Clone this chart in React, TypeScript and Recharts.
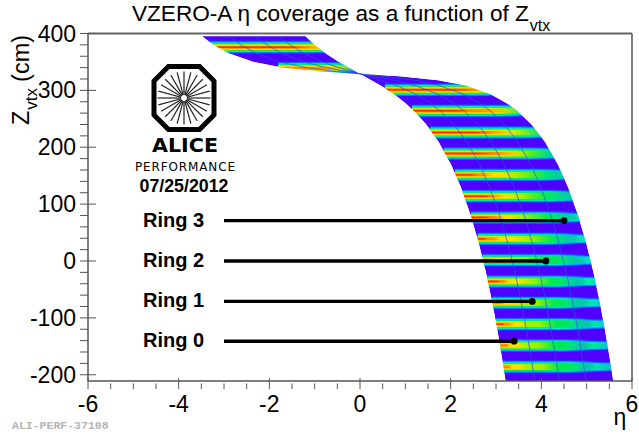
import { Area, ComposedChart, Line, ReferenceArea, ReferenceLine, XAxis, YAxis } from "recharts";

// band outline and ring boundaries, eta read at each z row
const zRows = [395, 380, 365, 350, 340, 333, 329, 325, 318, 308, 293, 278, 263, 240, 210, 170, 130, 80, 30, -20, -70, -120, -170, -211];
const etaLow = [-3.484, -3.228, -2.881, -2.348, -1.725, -0.872, 0, 0.092, 0.249, 0.465, 0.753, 0.997, 1.202, 1.462, 1.729, 2.005, 2.223, 2.443, 2.624, 2.777, 2.909, 3.028, 3.131, 3.211];
const etaHigh = [-1.202, -0.997, -0.753, -0.465, -0.249, -0.092, 0, 0.872, 1.725, 2.348, 2.881, 3.228, 3.484, 3.784, 4.074, 4.363, 4.588, 4.812, 4.995, 5.149, 5.283, 5.401, 5.507, 5.586];
const edgeA = [-1.781, -1.541, -1.234, -0.822, -0.463, -0.174, 0, 0.174, 0.463, 0.822, 1.234, 1.541, 1.781, 2.067, 2.35, 2.636, 2.859, 3.081, 3.264, 3.418, 3.552, 3.669, 3.775, 3.854];
const edgeB = [-2.305, -2.054, -1.721, -1.238, -0.754, -0.296, 0, 0.296, 0.754, 1.238, 1.721, 2.054, 2.305, 2.6, 2.888, 3.176, 3.4, 3.624, 3.806, 3.961, 4.094, 4.212, 4.318, 4.397];
const edgeC = [-2.887, -2.631, -2.288, -1.768, -1.189, -0.518, 0, 0.518, 1.189, 1.768, 2.288, 2.631, 2.887, 3.184, 3.474, 3.764, 3.988, 4.212, 4.394, 4.55, 4.683, 4.801, 4.907, 4.986];

// z bins and how far along eta each heat level reaches in that bin
const stripeZ = [376, 339, 301, 264, 226, 189, 151.5, 114, 76.5, 39, 1.5, -36, -73.5, -111, -148.5, -186];
const stripeFrom = [-3.4, -1.8, 0.55, 1.15, 1.55, 1.85, 2.1, 2.25, 2.45, 2.6, 2.7, 2.8, 2.9, 3.0, 3.1, 3.15];
const reachFull = [0, 0, 4.2, 4.5, 5, 5.2, 5.3, 5.5, 5.6, 5.8, 5.9, 6, 6, 6, 6, 6];
const reachCyan = [0, 0, 4, 4, 4.5, 4.7, 4.8, 5, 5.1, 5.2, 5.3, 5.4, 5.5, 5.6, 5.6, 5.7];
const reachGreen = [0, -0.1, 3.6, 3.9, 4.4, 4.6, 4.7, 4.9, 4.8, 4.85, 5.0, 5.0, 5.05, 5.15, 5.1, 5.2];
const reachLime = [0, -0.1, 3.4, 3.8, 4.1, 4.15, 4.1, 4.15, 4.15, 4.25, 4.05, 4.25, 4.3, 4.35, 4.3, 4.4];
const reachYellow = [-0.2, -0.2, 3.2, 3.5, 3.8, 3.75, 3.5, 3.6, 3.6, 3.7, 3.45, 3.8, 3.6, 3.7, 3.65, 3.7];
const reachOrange = [-0.7, -0.4, 3.0, 3.3, 3.35, 3.5, 2.95, 3.2, 3.2, 3.1, 3.0, 3.3, 3.2, 3.4, 3.3, 3.35];
const reachRed = [-0.9, -1.8, 2.7, 2.5, 2.9, 2.95, 2.6, 2.95, 2.9, 2.8, 2.85, 3.1, 2.9, 3.2, 3.1, 3.15];

// drawn in this order: thin cool cores show at the right, wide levels cover them at the left
const heatLevels = [
  { id: "blueCore", color: "#1a3cff", half: 9, reach: reachFull },
  { id: "azureCore", color: "#0090ff", half: 7.5, reach: reachFull },
  { id: "cyanCore", color: "#00e8e0", half: 6, reach: reachFull },
  { id: "greenCore", color: "#00e850", half: 3.5, reach: reachCyan },
  { id: "blueWide", color: "#1a3cff", half: 11.5, reach: reachGreen },
  { id: "azureWide", color: "#0090ff", half: 10, reach: reachGreen },
  { id: "cyanWide", color: "#00e8e0", half: 8.5, reach: reachGreen },
  { id: "greenWide", color: "#00e850", half: 7, reach: reachGreen },
  { id: "lime", color: "#a0f000", half: 5.5, reach: reachLime },
  { id: "yellow", color: "#ffe000", half: 4, reach: reachYellow },
  { id: "orange", color: "#ff8c00", half: 2.6, reach: reachOrange },
  { id: "red", color: "#ff2a00", half: 1.3, reach: reachRed },
];

const xTicks = [-6, -5.5, -5, -4.5, -4, -3.5, -3, -2.5, -2, -1.5, -1, -0.5, 0, 0.5, 1, 1.5, 2, 2.5, 3, 3.5, 4, 4.5, 5, 5.5, 6];
const yTicks = [400, 380, 360, 340, 320, 300, 280, 260, 240, 220, 200, 180, 160, 140, 120, 100, 80, 60, 40, 20, 0, -20, -40, -60, -80, -100, -120, -140, -160, -180, -200];

const rings = [
  { name: "Ring 3", z: 71, end: 4.5 },
  { name: "Ring 2", z: 0, end: 4.1 },
  { name: "Ring 1", z: -71, end: 3.8 },
  { name: "Ring 0", z: -141, end: 3.4 },
];
const ringStart = -3;

const spokes = [0, 15, 30, 45, 60, 75, 90, 105, 120, 135, 150, 165, 180, 195, 210, 225, 240, 255, 270, 285, 300, 315, 330, 345];

const rows = zRows.map((z, i) => ({
  z,
  band: [etaLow[i], etaHigh[i]],
  maskLeft: [-6, etaLow[i]],
  maskRight: [etaHigh[i], 6],
  edgeA: edgeA[i],
  edgeB: edgeB[i],
  edgeC: edgeC[i],
}));

const FONT = "'Liberation Sans', Arial, sans-serif";
const AXIS = "#555";

function XTick({ x, y, payload }: any) {
  const major = Number.isInteger(payload.value / 2);
  return (
    <g>
      <line x1={x} x2={x} y1={y} y2={y - (major ? 11 : 5.5)} stroke={AXIS} strokeWidth={1} />
      {major && (
        <text x={x} y={y + 23} textAnchor="middle" fontFamily={FONT} fontSize={23} fill="#000">
          {payload.value}
        </text>
      )}
    </g>
  );
}

function YTick({ x, y, payload }: any) {
  const major = payload.value % 100 === 0;
  return (
    <g>
      <line x1={x} x2={x + (major ? 16 : 8)} y1={y} y2={y} stroke={AXIS} strokeWidth={1} />
      {major && (
        <text x={x - 4} y={y + 8} textAnchor="end" fontFamily={FONT} fontSize={23} fill="#000">
          {payload.value}
        </text>
      )}
    </g>
  );
}

function AliceLogo() {
  return (
    <g>
      <polygon
        points="168.5,66.5 199.5,66.5 214,81 214,115 199.5,129.5 168.5,129.5 154,115 154,81"
        fill="#fff"
        stroke="#000"
        strokeWidth={5}
      />
      {spokes.map((a) => (
        <line
          key={a}
          x1={184 + 3 * Math.cos((a * Math.PI) / 180)}
          y1={98 + 3 * Math.sin((a * Math.PI) / 180)}
          x2={184 + 26.5 * Math.cos((a * Math.PI) / 180)}
          y2={98 + 26.5 * Math.sin((a * Math.PI) / 180)}
          stroke="#222"
          strokeWidth={1.2}
        />
      ))}
      <text x={185} y={152} textAnchor="middle" fontFamily="'DejaVu Sans'" fontWeight="bold" fontSize={20} textLength={66} lengthAdjust="spacingAndGlyphs">ALICE</text>
      <text x={185} y={171} textAnchor="middle" fontFamily="'DejaVu Sans'" fontSize={12} textLength={100} lengthAdjust="spacing">PERFORMANCE</text>
      <text x={184} y={192} textAnchor="middle" fontFamily={FONT} fontWeight="bold" fontSize={17.8}>07/25/2012</text>
    </g>
  );
}

export default function App() {
  return (
    <div style={{ position: "absolute", left: 0, top: 0, width: 639, height: 434, background: "#fff" }}>
      <ComposedChart
        width={639}
        height={434}
        data={rows}
        layout="vertical"
        margin={{ top: 33.5, right: 7, bottom: 0, left: 0 }}
      >
        <defs>
          {heatLevels.map((l) => (
            <linearGradient key={l.id} id={`fade-${l.id}`} x1="0" x2="1" y1="0" y2="0">
              <stop offset="70%" stopColor={l.color} stopOpacity={1} />
              <stop offset="100%" stopColor={l.color} stopOpacity={0} />
            </linearGradient>
          ))}
        </defs>
        <XAxis
          type="number"
          domain={[-6, 6]}
          ticks={xTicks}
          interval={0}
          height={53}
          tick={<XTick />}
          tickLine={false}
          axisLine={{ stroke: AXIS, strokeWidth: 1.5 }}
          allowDataOverflow
        />
        <YAxis
          type="number"
          dataKey="z"
          domain={[-211, 400]}
          reversed
          ticks={yTicks}
          interval={0}
          width={88}
          tick={<YTick />}
          tickLine={false}
          axisLine={{ stroke: AXIS, strokeWidth: 1.5 }}
          allowDataOverflow
        />
        <ReferenceLine y={400} stroke="#666" strokeWidth={2} />
        <ReferenceLine x={6} stroke="#555" strokeWidth={1.5} />
        <Area dataKey="band" type="linear" stroke="none" fill="#5000ff" fillOpacity={1} isAnimationActive={false} dot={false} activeDot={false} />
        {stripeZ.flatMap((z, i) =>
          heatLevels.map((l) => (
            <ReferenceArea
              key={`${z}-${l.id}`}
              x1={stripeFrom[i]}
              x2={Math.max(l.reach[i], stripeFrom[i])}
              y1={z - l.half}
              y2={z + l.half}
              fill={`url(#fade-${l.id})`}
              fillOpacity={1}
              stroke="none"
              ifOverflow="visible"
            />
          ))
        )}
        <Area dataKey="maskLeft" type="linear" stroke="none" fill="#fff" fillOpacity={1} isAnimationActive={false} dot={false} activeDot={false} />
        <Area dataKey="maskRight" type="linear" stroke="none" fill="#fff" fillOpacity={1} isAnimationActive={false} dot={false} activeDot={false} />
        <Line dataKey="edgeA" type="linear" stroke="#2a50e8" strokeWidth={1} strokeOpacity={0.7} dot={false} activeDot={false} isAnimationActive={false} />
        <Line dataKey="edgeB" type="linear" stroke="#2a50e8" strokeWidth={1} strokeOpacity={0.7} dot={false} activeDot={false} isAnimationActive={false} />
        <Line dataKey="edgeC" type="linear" stroke="#2a50e8" strokeWidth={1} strokeOpacity={0.7} dot={false} activeDot={false} isAnimationActive={false} />
        {rings.map((r) => (
          <Line
            key={r.name}
            data={[
              { z: r.z, eta: ringStart },
              { z: r.z, eta: r.end },
            ]}
            dataKey="eta"
            type="linear"
            stroke="#000"
            strokeWidth={3.4}
            dot={(p: any) =>
              p.index === 1 ? <circle key={p.index} cx={p.cx} cy={p.cy} r={3.4} fill="#000" /> : <g key={p.index} />
            }
            activeDot={false}
            isAnimationActive={false}
          />
        ))}
      </ComposedChart>
      <svg width={639} height={434} style={{ position: "absolute", left: 0, top: 0, pointerEvents: "none" }}>
        <AliceLogo />
        <text x={132} y={21} fontFamily={FONT} fontSize={22.6} fill="#000">
          VZERO-A η coverage as a function of Z
          <tspan dx={1} dy={10} fontSize={16}>vtx</tspan>
        </text>
        <text transform="translate(29,125) rotate(-90)" fontFamily={FONT} fontSize={23.5} fill="#000">
          Z<tspan dx={1} dy={8} fontSize={17}>vtx</tspan>
          <tspan dx={6} dy={-8}>(cm)</tspan>
        </text>
        <text x={620} y={425} textAnchor="middle" fontFamily={FONT} fontSize={23} fill="#000">η</text>
        {rings.map((r, i) => (
          <text key={r.name} x={143} y={227 + i * 40} fontFamily={FONT} fontWeight="bold" fontSize={20} fill="#000">
            {r.name}
          </text>
        ))}
        <text x={12} y={429} fontFamily="'Liberation Mono', monospace" fontWeight="bold" fontSize={11.5} fill="#b5b5b5">
          ALI-PERF-37108
        </text>
      </svg>
    </div>
  );
}
